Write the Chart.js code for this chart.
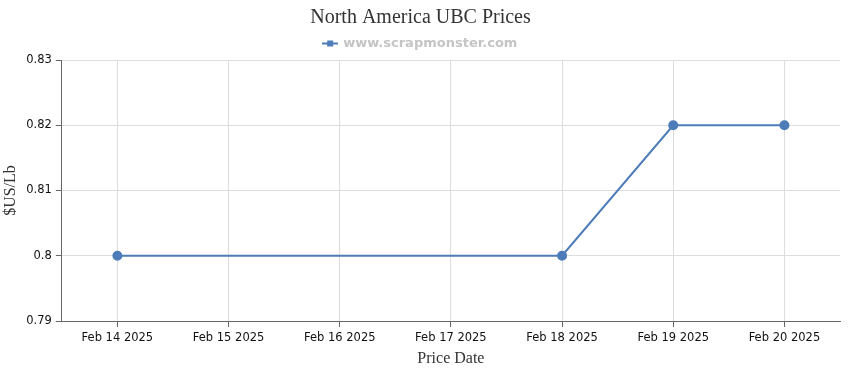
<!DOCTYPE html>
<html>
<head>
<meta charset="utf-8">
<script src="https://cdn.jsdelivr.net/npm/chart.js@4"></script>
<style>
  html, body { margin: 0; padding: 0; background: #fff; }
  #wrap { width: 850px; height: 370px; position: relative; }
</style>
</head>
<body>
<div id="wrap"><canvas id="priceChart"></canvas></div>
<script>
// chart data
const dates = ["Feb 14 2025", "Feb 15 2025", "Feb 16 2025", "Feb 17 2025", "Feb 18 2025", "Feb 19 2025", "Feb 20 2025"];
const prices = [0.80, null, null, null, 0.80, 0.82, 0.82];
const yTicks = [0.79, 0.80, 0.81, 0.82, 0.83];

const blue = "#4d7cb8";

// legend marker: line with a square in the middle
const marker = document.createElement("canvas");
marker.width = 16;
marker.height = 8;
const mctx = marker.getContext("2d");
mctx.fillStyle = blue;
mctx.fillRect(0, 3, 16, 2);
mctx.fillRect(5, 1, 6, 6);

const ctx = document.getElementById("priceChart").getContext("2d");
new Chart(ctx, {
    type: "line",
    data: {
        labels: dates,
        datasets: [
            {
                label: "www.scrapmonster.com",
                data: prices,
                borderColor: blue,
                backgroundColor: blue,
                borderWidth: 2,
                pointRadius: 4,
                pointHoverRadius: 5,
                pointStyle: "circle",
                spanGaps: true,
                tension: 0,
            },
        ],
    },
    options: {
        responsive: true,
        maintainAspectRatio: false,
        animation: false,
        layout: { padding: { left: 1, right: 10, top: 4, bottom: 2 } },
        plugins: {
            title: {
                display: true,
                text: "North America UBC Prices",
                color: "#333",
                font: { family: "Liberation Serif", size: 20, weight: "normal" },
                padding: { top: 2, bottom: 1 },
            },
            legend: {
                labels: {
                    usePointStyle: true,
                    pointStyle: marker,
                    color: "#c4c4c4",
                    font: { family: "DejaVu Sans", size: 13, weight: "bold" },
                    padding: 6,
                },
            },
            tooltip: { enabled: false },
        },
        scales: {
            x: {
                offset: true,
                grid: {
                    offset: false,
                    color: "#ddd",
                    tickColor: "#666",
                    tickLength: 6,
                },
                border: { color: "#666", width: 1 },
                ticks: {
                    color: "#111",
                    font: { family: "DejaVu Sans", size: 11.5 },
                    maxRotation: 0,
                    padding: 4,
                },
                title: {
                    display: true,
                    text: "Price Date",
                    color: "#333",
                    font: { family: "Liberation Serif", size: 16 },
                    padding: { top: 0, bottom: 0 },
                },
            },
            y: {
                min: yTicks[0],
                max: yTicks[yTicks.length - 1],
                afterBuildTicks: (axis) => {
                    axis.ticks = yTicks.map((v) => ({ value: v }));
                },
                grid: {
                    color: "#ddd",
                    tickColor: "#666",
                    tickLength: 6,
                },
                border: { color: "#666", width: 1 },
                ticks: {
                    color: "#111",
                    font: { family: "DejaVu Sans", size: 11.5 },
                    padding: 4,
                    callback: (v) => String(Number(v.toFixed(2))),
                },
                title: {
                    display: true,
                    text: "$US/Lb",
                    color: "#333",
                    font: { family: "Liberation Serif", size: 16 },
                    padding: { top: 0, bottom: 2 },
                },
            },
        },
    },
});
</script>
</body>
</html>
